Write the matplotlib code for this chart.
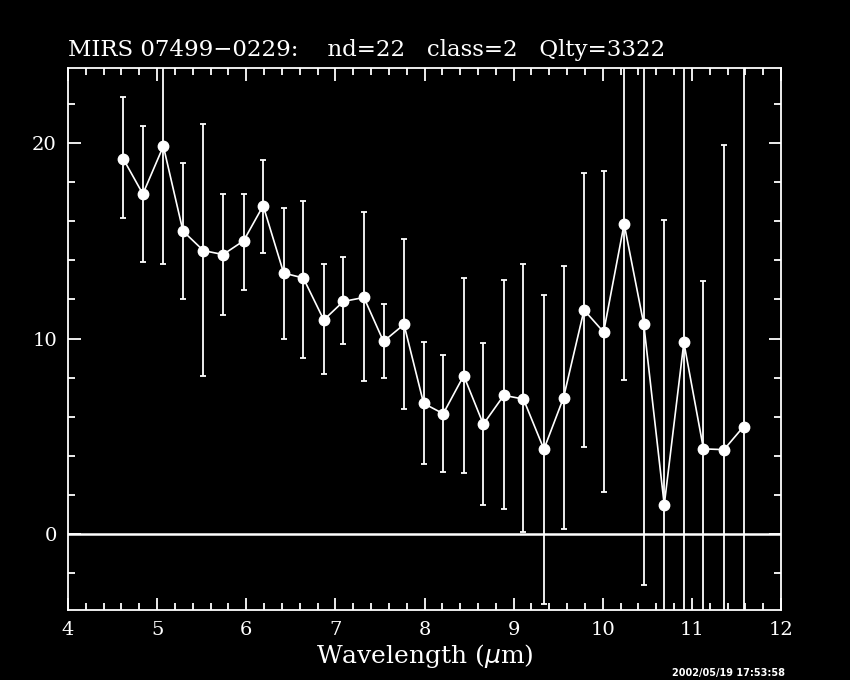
import matplotlib
matplotlib.use("Agg")
import matplotlib.pyplot as plt
import numpy as np
from matplotlib.ticker import MultipleLocator

wavelength = [4.62, 4.84, 5.07, 5.29, 5.52, 5.74, 5.97, 6.19, 6.42, 6.64, 6.87,
              7.09, 7.32, 7.54, 7.77, 7.99, 8.21, 8.44, 8.66, 8.89, 9.11, 9.34,
              9.56, 9.79, 10.01, 10.24, 10.46, 10.69, 10.91, 11.13, 11.36, 11.58]
flux = [19.2, 17.4, 19.85, 15.5, 14.5, 14.3, 15.0, 16.8, 13.35, 13.1, 10.95,
        11.9, 12.1, 9.85, 10.72, 6.68, 6.15, 8.1, 5.61, 7.09, 6.9, 4.33,
        6.97, 11.46, 10.33, 15.87, 10.74, 1.48, 9.8, 4.35, 4.31, 5.49]
err_top = [22.35, 20.9, 30.0, 19.0, 21.0, 17.4, 17.4, 19.15, 16.7, 17.05, 13.8,
           14.15, 16.5, 11.75, 15.07, 9.84, 9.14, 13.08, 9.77, 12.98, 13.83, 12.22,
           13.71, 18.45, 18.57, 30.0, 30.0, 16.08, 30.0, 12.94, 19.92, 30.0]
err_bot = [16.16, 13.9, 13.8, 12.0, 8.1, 11.2, 12.5, 14.4, 9.95, 9.0, 8.2,
           9.7, 7.8, 7.96, 6.38, 3.55, 3.16, 3.12, 1.47, 1.26, 0.1, -3.57,
           0.24, 4.47, 2.13, 7.88, -2.63, -10.0, -10.0, -10.0, -10.0, -10.0]

title = "MIRS 07499\u22120229:    nd=22   class=2   Qlty=3322"
timestamp = "2002/05/19 17:53:58"

plt.rcParams['font.family'] = ['DejaVu Serif']

fig = plt.figure(figsize=(8.5, 6.8), dpi=100, facecolor='black')
ax = fig.add_axes([68/850, 70/680, (781-68)/850, (610-68)/680])
ax.set_facecolor('black')

w = np.array(wavelength)
f = np.array(flux)
lo = f - np.array(err_bot)
hi = np.array(err_top) - f

ax.axhline(0, color='white', lw=1.8, zorder=1)
ax.errorbar(w, f, yerr=[lo, hi], fmt='none', ecolor='white', elinewidth=1.3,
            capsize=2.5, capthick=1.3, zorder=2)
ax.plot(w, f, '-', color='white', lw=1.2, zorder=3)
ax.plot(w, f, 'o', color='white', markersize=7.5, zorder=4)

ax.set_xlim(4, 12)
ax.set_ylim(-3.9, 23.85)
ax.xaxis.set_major_locator(MultipleLocator(1))
ax.xaxis.set_minor_locator(MultipleLocator(0.2))
ax.yaxis.set_major_locator(MultipleLocator(10))
ax.yaxis.set_minor_locator(MultipleLocator(2))

for s in ax.spines.values():
    s.set_color('white')
    s.set_linewidth(1.3)

ax.tick_params(which='both', direction='in', colors='white', top=True, right=True,
               labelsize=14)
ax.tick_params(which='major', length=9, width=1.3, pad=8)
ax.tick_params(which='minor', length=5, width=1.3)
for lab in ax.get_xticklabels() + ax.get_yticklabels():
    lab.set_color('white')

ax.set_xlabel(r"Wavelength ($\mu$m)", color='white', fontsize=18, labelpad=2)

fig.text(68/850, 1 - 50/680, title, color='white', fontsize=16.5, ha='left', va='center')
fig.text(785/850, 1 - 673/680, timestamp, color='white', fontsize=7, ha='right',
         va='center', fontweight='bold', family='DejaVu Sans')

fig.savefig("out.png", dpi=100, facecolor='black')
